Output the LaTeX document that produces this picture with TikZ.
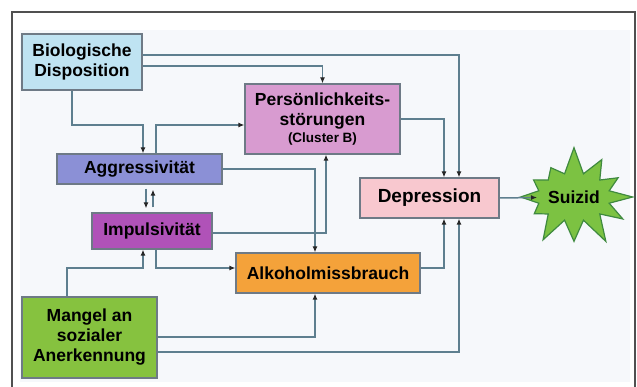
\documentclass[tikz,border=0pt]{standalone}
\usepackage{fontspec}
\setmainfont{Liberation Sans}
\usetikzlibrary{shapes.symbols, arrows.meta}

\definecolor{framegray}{HTML}{505050}
\definecolor{bgtint}{HTML}{F6F8FB}
\definecolor{linkblue}{HTML}{5E7F8F}
\definecolor{boxline}{HTML}{6E7A86}
\definecolor{biocol}{HTML}{BFE3F2}
\definecolor{perscol}{HTML}{D89BD0}
\definecolor{aggrcol}{HTML}{8B90D6}
\definecolor{impcol}{HTML}{B052B8}
\definecolor{alkcol}{HTML}{F4A23A}
\definecolor{mangcol}{HTML}{86C23F}
\definecolor{depcol}{HTML}{F8C8CF}
\definecolor{suizcol}{HTML}{7CC242}
\definecolor{suizline}{HTML}{3F8A3F}

\begin{document}
\begin{tikzpicture}
	[x=1pt, y=-1pt,
	 box/.style={draw=boxline, line width=1.2pt, inner sep=0pt, align=center,
	   font=\bfseries\fontsize{17.5}{20}\selectfont},
	 link/.style={draw=linkblue, line width=1.5pt,
	   -{Latex[length=6pt, width=5pt, color=black!85]}}]
   \useasboundingbox (0,0) rectangle (637,387);
   \fill[bgtint] (20,30) rectangle (630,382);
   \draw[framegray, line width=1.5pt] (12,387) -- (12,12) -- (635,12) -- (635,387);

   \node[box, fill=biocol, minimum width=120pt, minimum height=56pt] (bio) at (82,62)
     {Biologische\\Disposition};
   \node[box, fill=perscol, minimum width=155pt, minimum height=70pt] (pers) at (322.5,119)
     {Persönlichkeits-\\störungen\\[-3pt]{\fontsize{13.5}{16}\selectfont(Cluster B)}};
   \node[box, fill=aggrcol, minimum width=165pt, minimum height=30pt] (aggr) at (139.5,169)
     {Aggressivität};
   \node[box, fill=impcol, minimum width=120pt, minimum height=36pt] (impuls) at (152,231)
     {Impulsivität};
   \node[box, fill=alkcol, minimum width=184pt, minimum height=40pt] (alk) at (328,273)
     {Alkoholmissbrauch};
   \node[box, fill=mangcol, minimum width=135pt, minimum height=81pt] (mangel) at (89.5,337.5)
     {Mangel an\\sozialer\\Anerkennung};
   \node[box, fill=depcol, minimum width=139pt, minimum height=40pt,
     font=\bfseries\fontsize{19}{22}\selectfont] (dep) at (429.5,198)
     {Depression};
   \node[starburst, starburst points=12, starburst point height=28pt,
     random starburst=7, draw=suizline, line width=1.2pt, fill=suizcol,
     minimum width=126pt, minimum height=104pt, inner sep=0pt,
     font=\bfseries\fontsize{17.5}{20}\selectfont] (suizid) at (574,197) {Suizid};

    % Verbindungen
    \draw[link] (bio.east |- 0,55) -| (459,0 |- dep.north);
    \draw[link] (bio.east |- 0,66) -| (pers.north);
    \draw[link] (bio.south -| 72,0) |- (143,125) -- (143,0 |- aggr.north);
    \draw[link] (aggr.north -| 156,0) |- (pers.west |- 0,125);
    \draw[link] (pers.east) -| (444,0 |- dep.north);
    \draw[link] (aggr.east) -| (315,0 |- alk.north);
    \draw[link] (impuls.east |- 0,233) -| (326,0 |- pers.south);
    \draw[link, shorten <=4pt, shorten >=4pt] (146,0 |- aggr.south) -- (146,0 |- impuls.north);
    \draw[link, shorten <=5pt, shorten >=5pt] (153,0 |- impuls.north) -- (153,0 |- aggr.south);
    \draw[link] (impuls.south -| 156,0) |- (alk.west |- 0,268);
    \draw[link] (mangel.north -| 67,0) |- (143,268) -- (143,0 |- impuls.south);
    \draw[link] (mangel.east |- 0,337) -| (315,0 |- alk.south);
    \draw[link] (mangel.east |- 0,352) -| (459,0 |- dep.south);
    \draw[link] (alk.east |- 0,268) -| (444,0 |- dep.south);
    \draw[link, shorten >=37pt] (dep.east) -- (suizid.center);
\end{tikzpicture}
\end{document}
